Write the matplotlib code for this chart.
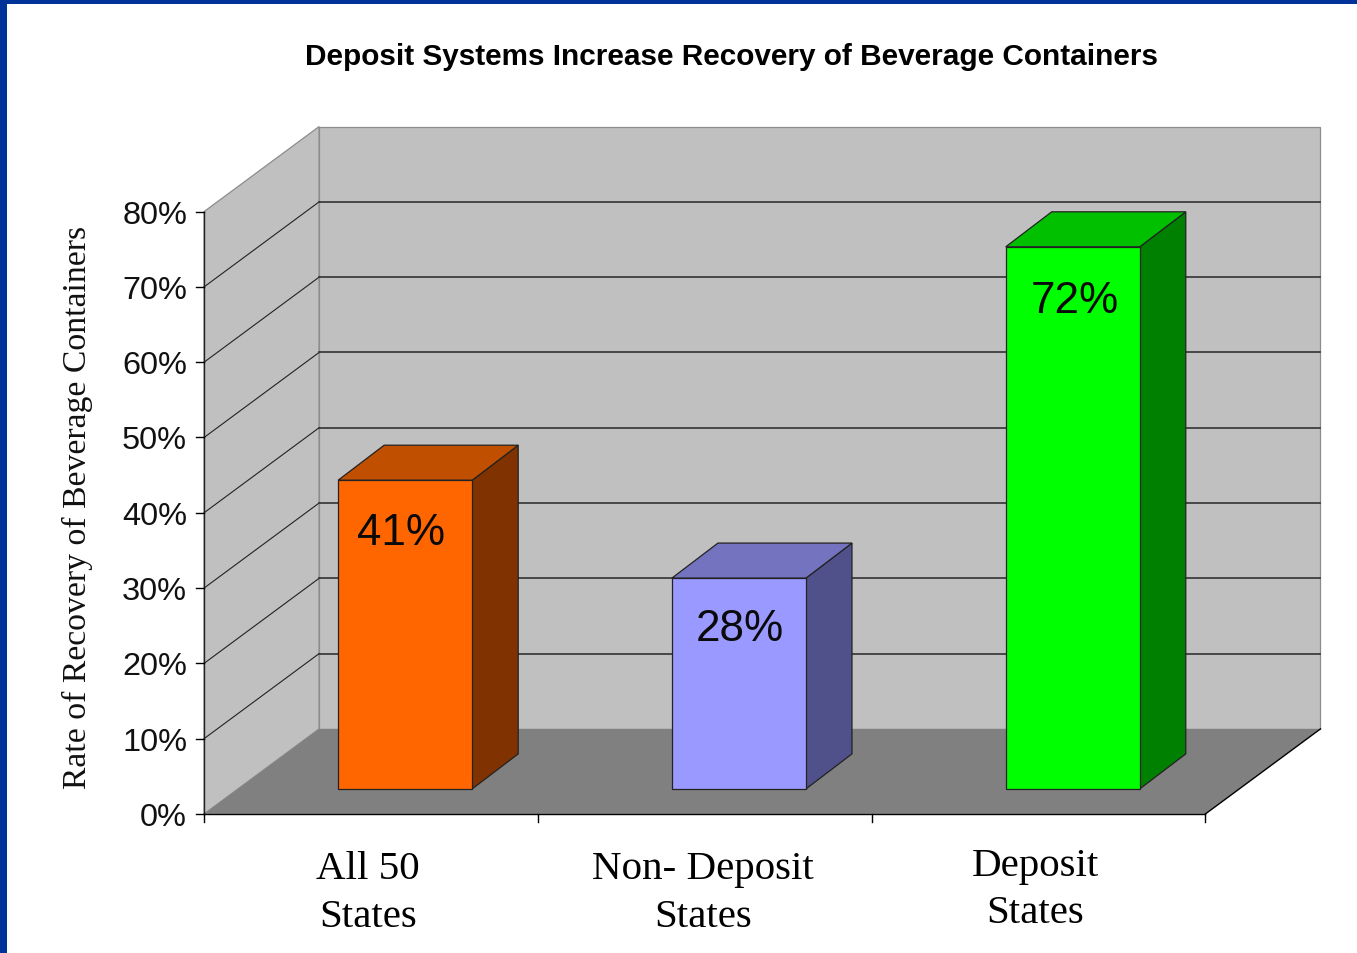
import matplotlib
matplotlib.use("Agg")
from matplotlib import pyplot as plt
from matplotlib.patches import Polygon, Rectangle

title = "Deposit Systems Increase Recovery of Beverage Containers"
ylabel = "Rate of Recovery of Beverage Containers"
categories = ["All 50\nStates", "Non- Deposit\nStates", "Deposit\nStates"]
values = [41, 28, 72]
value_labels = ["41%", "28%", "72%"]
yticks = [0, 10, 20, 30, 40, 50, 60, 70, 80]
front_colors = ["#FF6600", "#9999FF", "#00FF00"]
top_colors = ["#C05000", "#7373C0", "#00C000"]
side_colors = ["#803300", "#50508A", "#008000"]

W, H = 1357, 953
fig = plt.figure(figsize=((W + 0.5) / 100, (H + 0.5) / 100), dpi=100, facecolor="white")
ax = fig.add_axes([204 / W, (H - 814) / H, 1001 / W, 602 / H])
ax.set_xlim(0, 3)
ax.set_ylim(0, 80)
ax.axis("off")

# blue slide border
fig.patches.append(Rectangle((0, 0), 7 / W, 1, transform=fig.transFigure, fc="#003399", ec="none"))
fig.patches.append(Rectangle((0, 1 - 4 / H), 1, 4 / H, transform=fig.transFigure, fc="#003399", ec="none"))

px = 3 / 1001  # one pixel along x in data units
py = 80 / 602  # one pixel along y in data units

# depth of the fake 3d box
dx = 115 * px
dy = 85 * py
# depth of one bar and where it sits on the floor
bar_dx = 46 * px
bar_dy = 35 * py
bar_base = 25 * py
bar_left = 134 * px
bar_w = 134 * px


def poly(pts, fc, ec="none", lw=0.0, z=1):
    ax.add_patch(Polygon(pts, closed=True, fc=fc, ec=ec, lw=lw, zorder=z, clip_on=False))


# walls and floor
poly([(0, 0), (dx, dy), (dx, 80 + dy), (0, 80)], "#C0C0C0", "#8C8C8C", 0.9)
poly([(dx, dy), (3 + dx, dy), (3 + dx, 80 + dy), (dx, 80 + dy)], "#C0C0C0", "#8C8C8C", 0.9)
poly([(0, 0), (dx, dy), (3 + dx, dy), (3, 0)], "#808080", z=2)

# gridlines on both walls, none on the top edge
for t in yticks[1:-1]:
    ax.plot([0, dx], [t, t + dy], color="#222222", lw=0.8, zorder=1.5, clip_on=False)
    ax.plot([dx, 3 + dx], [t + dy, t + dy], color="#333333", lw=1.2, zorder=1.5, clip_on=False)

# axis lines and ticks
ax.plot([0, 0], [0, 80], color="#222222", lw=1.0, zorder=3, clip_on=False)
ax.plot([0, 3], [0, 0], color="black", lw=1.0, zorder=3, clip_on=False)
ax.plot([3, 3 + dx], [0, dy], color="black", lw=1.0, zorder=3, clip_on=False)
for t in yticks:
    ax.plot([-8 * px, 0], [t, t], color="black", lw=1.0, zorder=3, clip_on=False)
    ax.text(-17 * px, t - 3.5 * py, f"{t}%", ha="right", va="center", fontsize=23.4,
            family="Liberation Sans", color="#111111")
for i in range(4):
    ax.plot([i, i], [0, -8 * py], color="black", lw=1.0, zorder=3, clip_on=False)

# value labels are not quite centred in the original
value_nudge_x = [-2, 3, 2]
value_nudge_y = [-3, -1, -4]

# bars
for i, v in enumerate(values):
    x0 = i + bar_left
    x1 = x0 + bar_w
    y0 = bar_base
    y1 = bar_base + v
    poly([(x1, y0), (x1 + bar_dx, y0 + bar_dy), (x1 + bar_dx, y1 + bar_dy), (x1, y1)],
         side_colors[i], "#222222", 0.9, 4)
    poly([(x0, y1), (x0 + bar_dx, y1 + bar_dy), (x1 + bar_dx, y1 + bar_dy), (x1, y1)],
         top_colors[i], "#222222", 0.9, 4)
    poly([(x0, y0), (x1, y0), (x1, y1), (x0, y1)], front_colors[i], "#222222", 0.9, 5)
    ax.text(x0 + bar_w / 2 - 0.005 + (i == 2) * 0.005 + value_nudge_x[i] * px,
            y1 - 6.6 + value_nudge_y[i] * py, value_labels[i], ha="center", va="center",
            fontsize=31.7, family="Liberation Sans", color="#0a0a0a", zorder=6)

# category labels sit a bit unevenly in the original
label_x = [0.49, 1.495, 2.49]
label_y = [-10.5, -10.5, -10.0]
for i, c in enumerate(categories):
    ax.text(label_x[i], label_y[i], c, ha="center", va="center", fontsize=29.5,
            family="Liberation Serif", color="black", linespacing=1.37, clip_on=False)

fig.text(731 / W, 1 - 57 / H, title, ha="center", va="center", fontsize=21.4,
         family="Liberation Sans", weight="bold", color="black")
fig.text(77 / W, 1 - 507 / H, ylabel, ha="center", va="center", rotation=90,
         fontsize=24.3, family="Liberation Serif", color="#111111")

fig.savefig("out.png", dpi=100, facecolor="white")
